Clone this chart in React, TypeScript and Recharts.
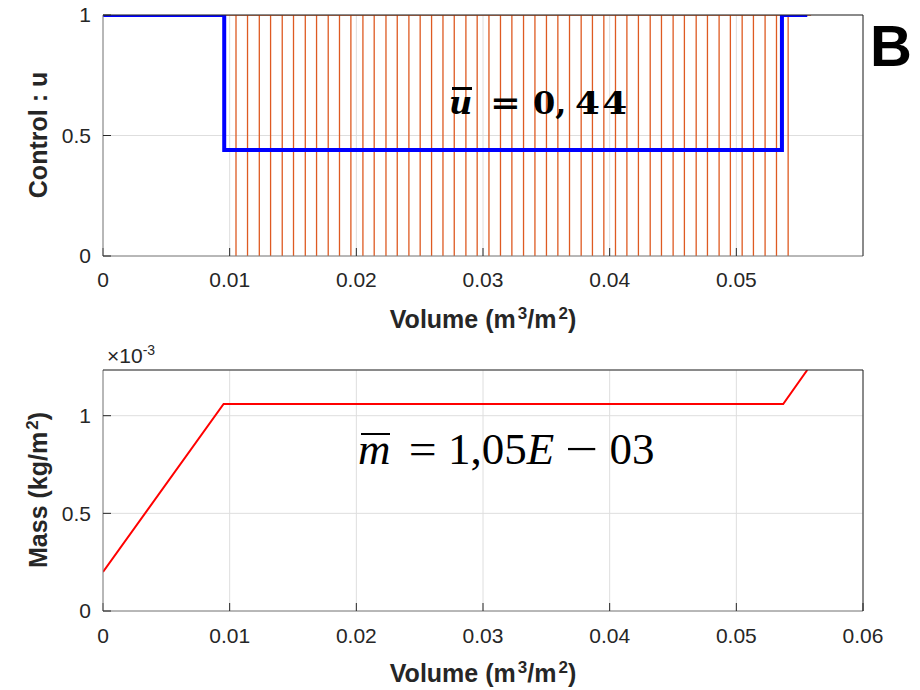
import { CartesianGrid, Line, LineChart, XAxis, YAxis } from 'recharts'

// ---- data ----
const VOLUME_TICKS_TOP = [0, 0.01, 0.02, 0.03, 0.04, 0.05]
const VOLUME_TICKS_BOTTOM = [0, 0.01, 0.02, 0.03, 0.04, 0.05, 0.06]
const CONTROL_TICKS = [0, 0.5, 1]
const MASS_TICKS = [0, 0.5, 1]

// optimal control u (blue, piecewise constant)
const controlVolume = [0, 0.00957, 0.00957, 0.0536, 0.0536, 0.0556]
const controlValue = [1, 1, 0.44, 0.44, 1, 1]

// bang-bang control (orange): stays at 1, drops to 0 at each switching volume
const switchVolume = [
  0.0105, 0.01141, 0.01234, 0.01323, 0.01415, 0.01504, 0.01597, 0.01686, 0.01778, 0.01867,
  0.01957, 0.02052, 0.02141, 0.02234, 0.02323, 0.02415, 0.02504, 0.02594, 0.02684, 0.02773,
  0.02865, 0.02954, 0.03047, 0.03138, 0.03228, 0.0332, 0.0341, 0.03501, 0.03591, 0.03683,
  0.03775, 0.03864, 0.03954, 0.04046, 0.04136, 0.04227, 0.0432, 0.04409, 0.04501, 0.0459,
  0.04683, 0.04772, 0.04864, 0.04953, 0.05046, 0.05135, 0.05227, 0.05317, 0.05409,
]
const switchRange = [0, 0.0559]

// mass (x1e-3 kg/m2, red)
const massVolume = [0, 0.00952, 0.0537, 0.0556]
const massValue = [0.2, 1.06, 1.06, 1.234]

// ---- styling ----
const SANS = '"Liberation Sans", Arial, Helvetica, sans-serif'
const SERIF = '"Liberation Serif", "Times New Roman", serif'
const INK = '#262626'
const GRID = '#dedede'
const AXIS_GREY = '#808080'

const controlData = controlVolume.map((v, i) => ({ v, u: controlValue[i] }))
const switchData = [
  { v: switchRange[0], u: 1 },
  ...switchVolume.flatMap(v => [
    { v, u: 1 },
    { v, u: 0 },
    { v, u: 1 },
  ]),
  { v: switchRange[1], u: 1 },
]
const massData = massVolume.map((v, i) => ({ v, m: massValue[i] }))

const tickStyle = { fill: INK, fontSize: 21, fontFamily: SANS }
const labelStyle = {
  position: 'absolute' as const,
  fontFamily: SANS,
  fontWeight: 700,
  fontSize: 25,
  lineHeight: '25px',
  color: INK,
  whiteSpace: 'nowrap' as const,
}
const supStyle = { fontSize: 17, lineHeight: 0, marginLeft: 2 }

function VolumeLabel({ top }: { top: number }) {
  return (
    <div style={{ ...labelStyle, left: 103, width: 760, top, textAlign: 'center' }}>
      Volume (m<sup style={supStyle}>3</sup>/m<sup style={supStyle}>2</sup>)
    </div>
  )
}

// overbar drawn just above a letter
function Bar({ children, top, left, width, thick }: { children: string; top: number; left: number; width: number; thick: number }) {
  return (
    <span style={{ position: 'relative', display: 'inline-block', fontStyle: 'italic' }}>
      {children}
      <span style={{ position: 'absolute', top, left, width, height: thick, background: '#000' }} />
    </span>
  )
}

const wide = (scale: number, marginLeft: number) => ({
  marginLeft,
  display: 'inline-block',
  transform: `scaleX(${scale})`,
})

// top and right edges of the MATLAB-style box, with inward ticks
function boxAxes(domainY: number[], ticksY: number[]) {
  return [
    <XAxis
      key="top"
      xAxisId="top"
      orientation="top"
      type="number"
      dataKey="v"
      domain={[0, 0.06]}
      ticks={VOLUME_TICKS_BOTTOM}
      height={1}
      tick={false}
      tickSize={-8}
      axisLine={{ stroke: INK }}
      tickLine={{ stroke: INK }}
      allowDataOverflow
    />,
    <YAxis
      key="right"
      yAxisId="right"
      orientation="right"
      type="number"
      domain={domainY}
      ticks={ticksY}
      width={1}
      tick={false}
      tickSize={-8}
      axisLine={{ stroke: INK }}
      tickLine={{ stroke: INK }}
      allowDataOverflow
    />,
  ]
}

function ControlChart() {
  return (
    <LineChart width={920} height={340} margin={{ top: 14, right: 56, bottom: 54, left: 0 }}>
      <CartesianGrid stroke={GRID} />
      <XAxis
        type="number"
        dataKey="v"
        domain={[0, 0.06]}
        ticks={VOLUME_TICKS_TOP}
        height={30}
        tickSize={-8}
        tickMargin={24}
        tick={tickStyle}
        axisLine={{ stroke: AXIS_GREY }}
        tickLine={{ stroke: INK }}
        allowDataOverflow
      />
      <YAxis
        type="number"
        domain={[0, 1]}
        ticks={CONTROL_TICKS}
        width={103}
        tickSize={-8}
        tickMargin={20}
        tick={tickStyle}
        axisLine={{ stroke: AXIS_GREY }}
        tickLine={{ stroke: INK }}
        allowDataOverflow
      />
      {boxAxes([0, 1], CONTROL_TICKS)}
      <Line
        data={switchData}
        dataKey="u"
        type="linear"
        stroke="#DE5A22"
        strokeWidth={1.3}
        dot={false}
        isAnimationActive={false}
      />
      <Line
        data={controlData}
        dataKey="u"
        type="linear"
        stroke="#0000FF"
        strokeWidth={4}
        strokeLinejoin="miter"
        dot={false}
        isAnimationActive={false}
      />
    </LineChart>
  )
}

function MassChart() {
  return (
    <LineChart width={920} height={350} margin={{ top: 29, right: 56, bottom: 49, left: 0 }}>
      <CartesianGrid stroke={GRID} />
      <XAxis
        type="number"
        dataKey="v"
        domain={[0, 0.06]}
        ticks={VOLUME_TICKS_BOTTOM}
        height={30}
        tickSize={-8}
        tickMargin={25}
        tick={tickStyle}
        axisLine={{ stroke: AXIS_GREY }}
        tickLine={{ stroke: INK }}
        allowDataOverflow
      />
      <YAxis
        type="number"
        domain={[0, 1.234]}
        ticks={MASS_TICKS}
        width={103}
        tickSize={-8}
        tickMargin={20}
        tick={tickStyle}
        axisLine={{ stroke: AXIS_GREY }}
        tickLine={{ stroke: INK }}
        allowDataOverflow
      />
      {boxAxes([0, 1.234], MASS_TICKS)}
      <Line
        data={massData}
        dataKey="m"
        type="linear"
        stroke="#FF0000"
        strokeWidth={2}
        dot={false}
        isAnimationActive={false}
      />
    </LineChart>
  )
}

export default function App() {
  return (
    <div style={{ position: 'absolute', left: 0, top: 0, width: 920, height: 690, background: '#fff' }}>
      <div style={{ position: 'absolute', left: 0, top: 0 }}>
        <ControlChart />
      </div>
      <div style={{ position: 'absolute', left: 0, top: 340 }}>
        <MassChart />
      </div>

      <VolumeLabel top={307} />
      <VolumeLabel top={661} />

      <div style={{ ...labelStyle, left: 38, top: 135, transform: 'translate(-50%, -50%) rotate(-90deg)' }}>
        Control : u
      </div>
      <div style={{ ...labelStyle, left: 38, top: 490, transform: 'translate(-50%, -50%) rotate(-90deg)' }}>
        Mass (kg/m<sup style={supStyle}>2</sup>)
      </div>

      {/* exponent of the mass axis */}
      <div
        style={{
          position: 'absolute',
          left: 107,
          top: 345,
          fontFamily: SANS,
          fontSize: 21,
          lineHeight: '21px',
          color: INK,
          whiteSpace: 'nowrap',
        }}
      >
        ×10<sup style={{ fontSize: 14, lineHeight: 0 }}>-3</sup>
      </div>

      {/* panel letter */}
      <div
        style={{
          position: 'absolute',
          left: 870,
          top: 17,
          fontFamily: SANS,
          fontWeight: 700,
          fontSize: 58,
          lineHeight: '58px',
          color: '#000',
        }}
      >
        B
      </div>

      {/* mean control */}
      <div
        style={{
          position: 'absolute',
          left: 449,
          top: 87,
          fontFamily: '"DejaVu Serif", serif',
          fontWeight: 700,
          fontSize: 32,
          lineHeight: '32px',
          color: '#000',
          whiteSpace: 'nowrap',
        }}
      >
        <Bar top={0} left={3} width={20} thick={3}>u</Bar>
        <span style={wide(1.15, 20)}>=</span>
        <span style={{ marginLeft: 14 }}>0,</span>
        <span style={{ ...wide(1.12, 9), transformOrigin: 'left', letterSpacing: 2 }}>44</span>
      </div>

      {/* mean mass */}
      <div
        style={{
          position: 'absolute',
          left: 358,
          top: 427,
          fontFamily: SERIF,
          fontSize: 45,
          lineHeight: '45px',
          color: '#000',
          whiteSpace: 'nowrap',
        }}
      >
        <Bar top={6} left={3} width={29} thick={2}>m</Bar>
        <span style={wide(1.1, 19)}>=</span>
        <span style={{ marginLeft: 13 }}>1,05</span>
        <span style={{ fontStyle: 'italic' }}>E</span>
        <span style={wide(1.3, 15)}>−</span>
        <span style={{ marginLeft: 15 }}>03</span>
      </div>
    </div>
  )
}
